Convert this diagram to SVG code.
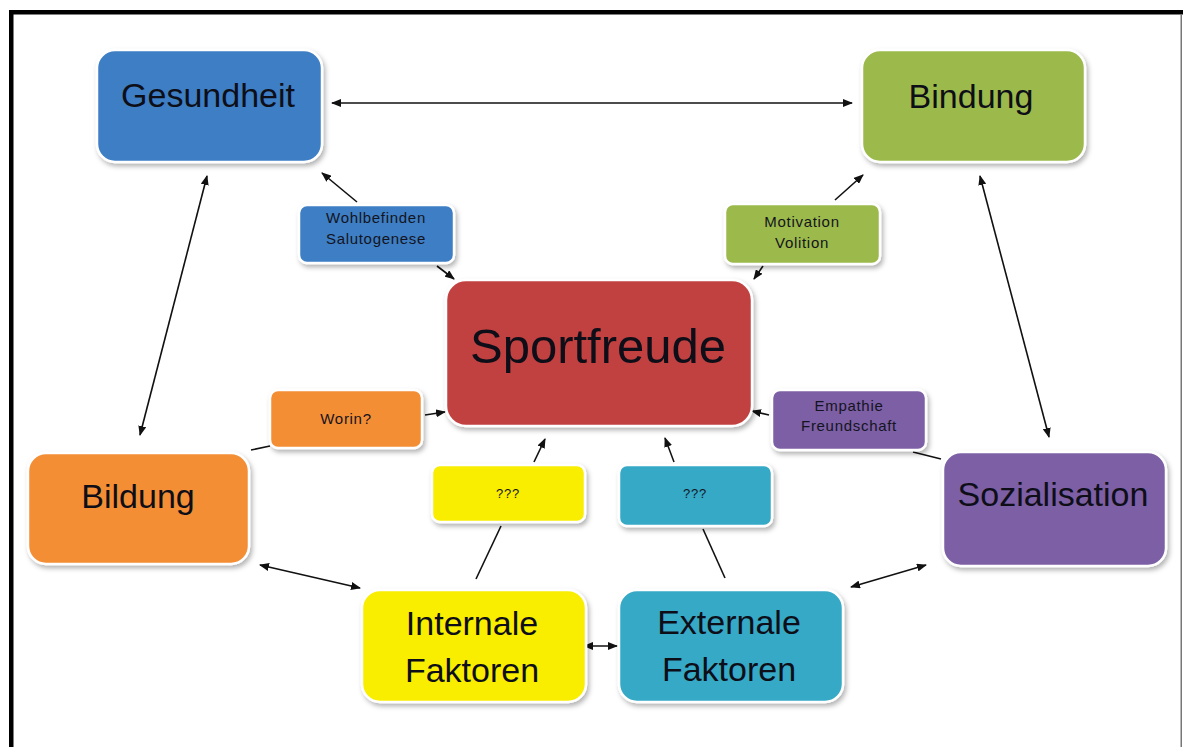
<svg xmlns="http://www.w3.org/2000/svg" width="1183" height="747" viewBox="0 0 1183 747">
  <style>
    .box { stroke: #ffffff; stroke-width: 2.5; filter: url(#shadow); }
    .big { font-family: "Liberation Sans", Arial, sans-serif; font-size: 34px; fill: #0e0e18; text-anchor: middle; }
    .small { font-family: "Liberation Sans", Arial, sans-serif; font-size: 15px; letter-spacing: 0.7px; fill: #14141e; text-anchor: middle; }
    .link { stroke: #111111; stroke-width: 1.6; fill: none; }
    .one { marker-end: url(#head); }
    .two { marker-start: url(#head); marker-end: url(#head); }
  </style>
  <defs>
    <filter id="shadow" x="-10%" y="-10%" width="125%" height="130%">
      <feDropShadow dx="2" dy="3" stdDeviation="2.5" flood-color="#000000" flood-opacity="0.3"/>
    </filter>
    <marker id="head" viewBox="0 0 10 8" refX="9" refY="4" markerWidth="10" markerHeight="8" markerUnits="userSpaceOnUse" orient="auto-start-reverse">
      <path d="M0,0 L10,4 L0,8 Z" fill="#111111"/>
    </marker>
  </defs>

  <rect width="1183" height="747" fill="#ffffff"/>

  <!-- page frame -->
  <g id="frame">
    <rect x="9" y="10" width="1174" height="4.5" fill="#000000"/>
    <rect x="9" y="10" width="4.5" height="737" fill="#000000"/>
    <rect x="1180.5" y="14" width="1.5" height="733" fill="#777777"/>
  </g>

  <!-- connectors -->
  <g id="connectors">
    <line class="link two" x1="332" y1="103" x2="852" y2="103"/>
    <line class="link two" x1="207" y1="176" x2="140" y2="435"/>
    <line class="link two" x1="980" y1="176" x2="1049" y2="437"/>
    <line class="link one" x1="357" y1="202" x2="322" y2="173"/>
    <line class="link one" x1="437" y1="266" x2="454" y2="279"/>
    <line class="link one" x1="835" y1="200" x2="863" y2="175"/>
    <line class="link one" x1="763" y1="266" x2="754" y2="279"/>
    <line class="link one" x1="425" y1="415" x2="445" y2="412"/>
    <line class="link" x1="251" y1="450" x2="270" y2="446"/>
    <line class="link one" x1="769" y1="415" x2="752" y2="411"/>
    <line class="link" x1="941" y1="459" x2="913" y2="452"/>
    <line class="link" x1="476" y1="579" x2="501" y2="526"/>
    <line class="link one" x1="534" y1="462" x2="545" y2="439"/>
    <line class="link" x1="725" y1="578" x2="703" y2="529"/>
    <line class="link one" x1="674" y1="462" x2="665" y2="438"/>
    <line class="link two" x1="260" y1="565" x2="360" y2="588"/>
    <line class="link two" x1="584" y1="646" x2="617" y2="646"/>
    <line class="link two" x1="851" y1="587" x2="926" y2="565"/>
  </g>

  <!-- main topics -->
  <g id="gesundheit">
    <rect class="box" x="97" y="50" width="225" height="112" rx="18" fill="#3d7ec4"/>
    <text class="big" x="208" y="107">Gesundheit</text>
  </g>
  <g id="bindung">
    <rect class="box" x="862" y="50" width="223" height="112" rx="18" fill="#9bba4c"/>
    <text class="big" x="971" y="108">Bindung</text>
  </g>
  <g id="bildung">
    <rect class="box" x="28" y="453" width="221" height="111" rx="18" fill="#f48e36"/>
    <text class="big" x="138" y="508">Bildung</text>
  </g>
  <g id="sozialisation">
    <rect class="box" x="943" y="452" width="223" height="114" rx="18" fill="#7c5fa5"/>
    <text class="big" x="1053" y="506">Sozialisation</text>
  </g>
  <g id="internale-faktoren">
    <rect class="box" x="362" y="590" width="224" height="112" rx="18" fill="#f9ee00"/>
    <text class="big" x="472" y="635">Internale</text>
    <text class="big" x="472" y="682">Faktoren</text>
  </g>
  <g id="externale-faktoren">
    <rect class="box" x="619" y="590" width="224" height="112" rx="18" fill="#34a9c6"/>
    <text class="big" x="729" y="634">Externale</text>
    <text class="big" x="729" y="681">Faktoren</text>
  </g>

  <!-- centre -->
  <g id="sportfreude">
    <rect class="box" x="446" y="280" width="306" height="146" rx="20" fill="#c1413f"/>
    <text class="big" x="598" y="363" style="font-size:49px">Sportfreude</text>
  </g>

  <!-- intermediate labels -->
  <g id="wohlbefinden">
    <rect class="box" x="299" y="205" width="155" height="58" rx="8" fill="#3d7ec4"/>
    <text class="small" x="376" y="223">Wohlbefinden</text>
    <text class="small" x="376" y="244">Salutogenese</text>
  </g>
  <g id="motivation">
    <rect class="box" x="725" y="204" width="155" height="60" rx="8" fill="#9bba4c"/>
    <text class="small" x="802" y="227">Motivation</text>
    <text class="small" x="802" y="248">Volition</text>
  </g>
  <g id="worin">
    <rect class="box" x="270" y="390" width="152" height="58" rx="8" fill="#f48e36"/>
    <text class="small" x="346" y="424">Worin?</text>
  </g>
  <g id="empathie">
    <rect class="box" x="772" y="390" width="154" height="60" rx="8" fill="#7c5fa5"/>
    <text class="small" x="849" y="411">Empathie</text>
    <text class="small" x="849" y="431">Freundschaft</text>
  </g>
  <g id="internal-frage">
    <rect class="box" x="432" y="465" width="153" height="57" rx="8" fill="#f9ee00"/>
    <text class="small" x="508" y="498" style="font-size:13px">???</text>
  </g>
  <g id="external-frage">
    <rect class="box" x="619" y="465" width="153" height="61" rx="8" fill="#34a9c6"/>
    <text class="small" x="695" y="498" style="font-size:13px">???</text>
  </g>
</svg>
